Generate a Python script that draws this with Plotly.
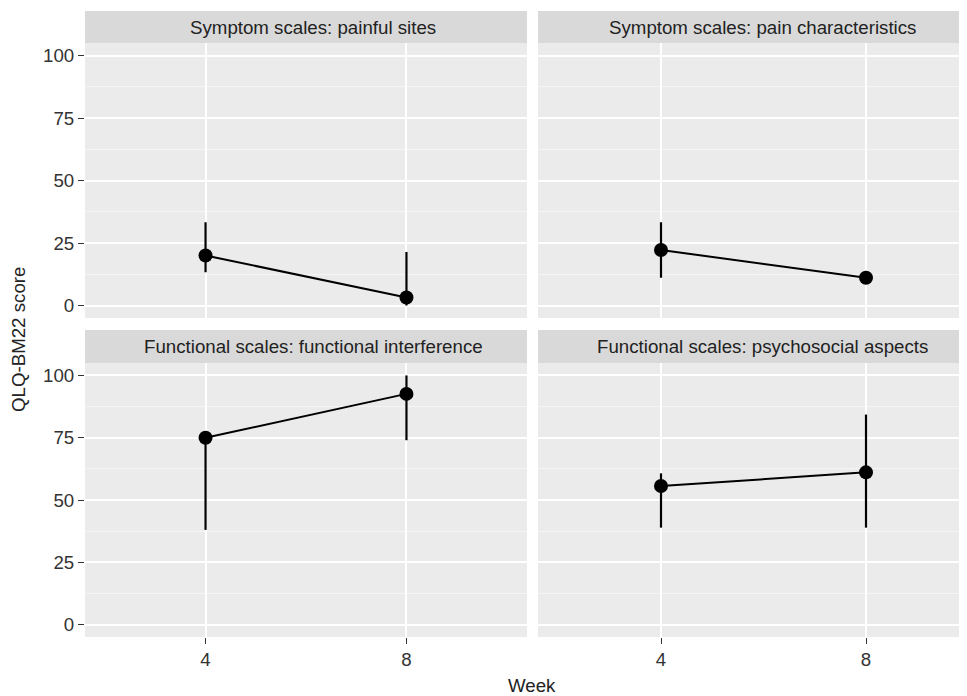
import plotly.graph_objects as go
from plotly.subplots import make_subplots

# ---- data ----
weeks = [4, 8]
panel_titles = [
    "Symptom scales: painful sites",
    "Symptom scales: pain characteristics",
    "Functional scales: functional interference",
    "Functional scales: psychosocial aspects",
]
means = [
    [20.0, 3.2],
    [22.2, 11.1],
    [75.0, 92.6],
    [55.6, 61.1],
]
upper = [
    [33.3, 21.4],
    [33.3, 11.1],
    [75.0, 100.0],
    [60.7, 84.3],
]
lower = [
    [13.3, 0.0],
    [11.1, 11.1],
    [38.0, 74.0],
    [38.9, 38.9],
]
y_ticks = [0, 25, 50, 75, 100]
x_ticks = [4, 8]

# ---- layout geometry (page pixels; browser body margin offset = 8px) ----
OFF = 8
PW, PH = 967, 696
W, H = PW - OFF, PH - OFF
ml, mr, mt, mb = 85 - OFF, 0, 11 - OFF, PH - 637
pw = W - ml - mr
ph = H - mt - mb

def px_x(px):
    return (px - OFF - ml) / pw

def px_y(py):
    return (H - mb - (py - OFF)) / ph

col_dom = [[0.0, px_x(527)], [px_x(538), 1.0]]
row_panel = [[px_y(318), px_y(43)], [px_y(637), px_y(363)]]
row_strip = [[px_y(43), px_y(11)], [px_y(363), px_y(330)]]
strip_text_x = [px_x(313), px_x(762.5)]
right_end_units = 10.13 - (OFF / 50.25)
x_ranges = [[1.6, 10.4], [1.6, right_end_units]]

fig = make_subplots(rows=2, cols=2)

FONT = "Liberation Sans, Arial, Helvetica, sans-serif"
fs = 18.7

for i in range(4):
    r, c = divmod(i, 2)
    em = [u - m for u, m in zip(upper[i], means[i])]
    emm = [m - l for m, l in zip(means[i], lower[i])]
    fig.add_trace(
        go.Scatter(
            x=weeks, y=means[i], mode="lines+markers",
            line=dict(color="black", width=2),
            marker=dict(color="black", size=14),
            error_y=dict(type="data", symmetric=False, array=em, arrayminus=emm,
                         color="black", thickness=2.2, width=0),
            showlegend=False, cliponaxis=False,
        ),
        row=r + 1, col=c + 1,
    )

    xa = "xaxis" if i == 0 else f"xaxis{i+1}"
    ya = "yaxis" if i == 0 else f"yaxis{i+1}"
    fig.layout[xa].update(
        domain=col_dom[c], range=x_ranges[c], tickvals=x_ticks,
        ticktext=[str(v) for v in x_ticks],
        showticklabels=(r == 1),
        ticks="outside" if r == 1 else "", ticklen=6, tickwidth=1.3, tickcolor="#333333",
        showgrid=True, gridcolor="white", gridwidth=1.6,
        zeroline=False, showline=False,
        tickfont=dict(family=FONT, size=fs, color="#333333"),
    )
    fig.layout[ya].update(
        domain=row_panel[r], range=[-5, 105], tickvals=y_ticks,
        showticklabels=(c == 0),
        ticks="outside" if c == 0 else "", ticklen=6, tickwidth=1.3, tickcolor="#333333",
        showgrid=True, gridcolor="white", gridwidth=1.6,
        minor=dict(tickvals=[12.5, 37.5, 62.5, 87.5], showgrid=True,
                   gridcolor="#F5F5F5", gridwidth=0.8, ticks=""),
        zeroline=False, showline=False,
        tickfont=dict(family=FONT, size=fs, color="#333333"),
    )

    # strip background
    fig.add_shape(type="rect", xref="paper", yref="paper",
                  x0=col_dom[c][0], x1=col_dom[c][1],
                  y0=row_strip[r][0], y1=row_strip[r][1],
                  fillcolor="#D9D9D9", line=dict(width=0), layer="below")
    fig.add_annotation(x=strip_text_x[c],
                       y=(row_strip[r][0] + row_strip[r][1]) / 2,
                       xref="paper", yref="paper", text=panel_titles[i],
                       showarrow=False, xanchor="center", yanchor="middle",
                       font=dict(family=FONT, size=fs, color="#222222"))

# axis titles
fig.add_annotation(x=px_x(531.5), y=px_y(685), xref="paper", yref="paper",
                   text="Week", showarrow=False, xanchor="center", yanchor="middle",
                   font=dict(family=FONT, size=fs, color="#222222"))
fig.add_annotation(x=px_x(18), y=px_y(340), xref="paper", yref="paper",
                   text="QLQ-BM22 score", showarrow=False, textangle=-90,
                   xanchor="center", yanchor="middle",
                   font=dict(family=FONT, size=fs, color="#222222"))

fig.update_layout(
    width=W, height=H,
    margin=dict(l=ml, r=mr, t=mt, b=mb, pad=0),
    paper_bgcolor="white", plot_bgcolor="#EBEBEB",
    font=dict(family=FONT, size=fs),
)

fig.write_html("out.html")
